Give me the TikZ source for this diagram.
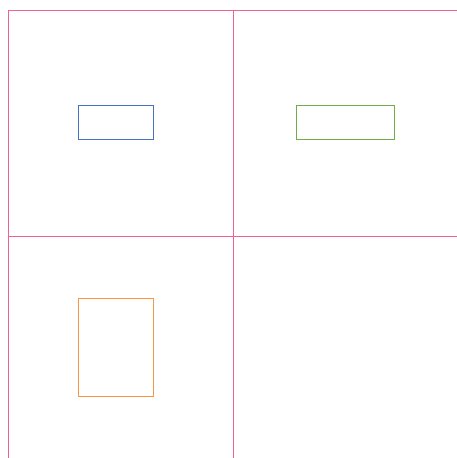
\documentclass[tikz,border=0pt]{standalone}
\usepackage{tikz}
\usetikzlibrary{positioning}

\definecolor{gridpink}{HTML}{F06292}
\definecolor{boxblue}{HTML}{4472C4}
\definecolor{boxgreen}{HTML}{70AD47}
\definecolor{boxorange}{HTML}{F79646}

\begin{document}
\begin{tikzpicture}[
        x=1pt, y=-1pt,
        cell/.style={draw=gridpink, line width=0.9pt},
        panel/.style={draw=#1, line width=0.9pt, fill=white, inner sep=0pt, anchor=north west}
    ]
    \useasboundingbox (0, 0) rectangle (457, 458);

    % grid of cells
    \draw[cell] (8, 458) -- (8, 10.5) -- (457, 10.5);
    \draw[cell] (233.7, 10.5) -- (233.7, 458);
    \draw[cell] (8, 236) -- (457, 236);

    % boxes
    \node[panel=boxblue, minimum width=74.7pt, minimum height=33.4pt] (blueBox) at (78, 105.3) {};
    \node[panel=boxgreen, minimum width=98pt, minimum height=33.4pt] (greenBox) at (295.7, 105.3) {};
    \node[panel=boxorange, minimum width=74.7pt, minimum height=97.7pt] (orangeBox) at (78, 298) {};

\end{tikzpicture}
\end{document}
